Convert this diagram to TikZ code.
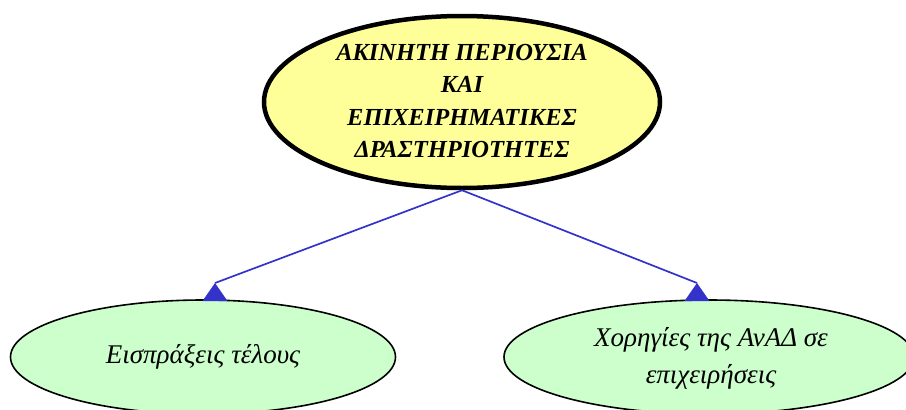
\documentclass[tikz,border=0pt]{standalone}
\usepackage{fontspec}
\setmainfont{Liberation Serif}
\usetikzlibrary{shapes.geometric}
\definecolor{topfill}{HTML}{FFFF99}
\definecolor{leaffill}{HTML}{CCFFCC}
\definecolor{edgeblue}{HTML}{3333CC}
\tikzset{
  topnode/.style={ellipse, draw=black, line width=4.5pt, fill=topfill, minimum width=396pt, minimum height=172pt, inner sep=0pt},
  leafnode/.style={ellipse, draw=black, line width=1.6pt, fill=leaffill, inner sep=0pt},
  txt/.style={align=center, font=\fontsize{27}{37}\selectfont\itshape},
  toptxt/.style={align=center, font=\fontsize{24.5}{32.5}\selectfont\bfseries\itshape},
  edge/.style={draw=edgeblue, line width=1.7pt},
  tiphead/.style={fill=edgeblue}
}
\begin{document}
\begin{tikzpicture}[x=1pt,y=-1pt]
\useasboundingbox (0,0) rectangle (906,410);
\node[topnode] (top) at (462,102) {};
\node[toptxt] (toptext) at (462,101) {ΑΚΙΝΗΤΗ ΠΕΡΙΟΥΣΙΑ\\ΚΑΙ\\ΕΠΙΧΕΙΡΗΜΑΤΙΚΕΣ\\ΔΡΑΣΤΗΡΙΟΤΗΤΕΣ};
\node[leafnode, minimum width=385pt, minimum height=114pt] (left) at (203,357) {};
\node[txt] (lefttext) at (203,357) {Εισπράξεις τέλους};
\node[leafnode, minimum width=410pt, minimum height=114pt] (right) at (709,357) {};
\node[txt] (righttext) at (711,358) {Χορηγίες της ΑνΑΔ σε\\επιχειρήσεις};
\coordinate (la) at (215,283);
\coordinate (ra) at (697,283);
\draw[edge] (top.south) -- (la);
\draw[edge] (top.south) -- (ra);
\fill[tiphead] (la) -- ++(-12.5,18) -- ++(25,0) -- cycle;
\fill[tiphead] (ra) -- ++(-12.5,18) -- ++(25,0) -- cycle;
\end{tikzpicture}
\end{document}
